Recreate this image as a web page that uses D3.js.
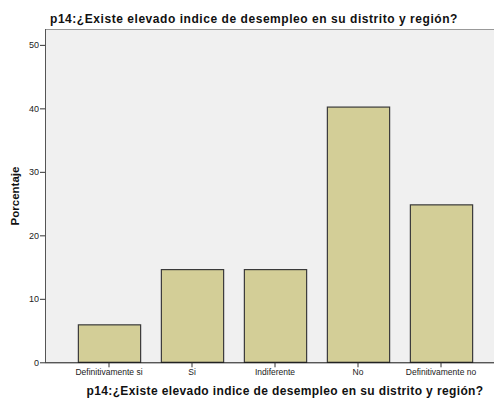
<!DOCTYPE html>
<html><head><meta charset="utf-8">
<script src="https://cdn.jsdelivr.net/npm/d3@7"></script>
<style>body{margin:0;background:#fff}svg{display:block}</style>
</head><body><svg id="c" width="494" height="401"></svg>
<script>
const categories = ["Definitivamente si","Si","Indiferente","No","Definitivamente no"];
const values = [5.9, 14.6, 14.6, 40.2, 24.8];
const yTicks = [0,10,20,30,40,50];
const titleText = "p14:¿Existe elevado indice de desempleo en su distrito y región?";
const yTitle = "Porcentaje";

const svg = d3.select("#c");
const L=45, R=494, T=29, B=362.3;
const font = "'Liberation Sans', Arial, sans-serif";

svg.append("rect").attr("x",L).attr("y",T).attr("width",R-L).attr("height",B-T).attr("fill","#f0f0f0");
svg.append("line").attr("x1",L).attr("x2",R).attr("y1",T+0.5).attr("y2",T+0.5).attr("stroke","#999");

const x = d3.scaleBand().domain(categories).range([67.5,482.5]).paddingInner(0.25).paddingOuter(0.125);
const y = d3.scaleLinear().domain([0,52.5]).range([B,T]);

svg.selectAll("rect.bar").data(values).enter().append("rect").attr("class","bar")
  .attr("x",(d,i)=>x(categories[i])+0.5).attr("width",x.bandwidth())
  .attr("y",d=>y(d)).attr("height",d=>B-y(d))
  .attr("fill","#d3ce97").attr("stroke","#3a3a3a").attr("stroke-width",1.2);

const ya = svg.append("g").attr("transform",`translate(${L},0)`).call(d3.axisLeft(y).tickValues(yTicks).tickSize(5).tickSizeOuter(0));
ya.select(".domain").attr("stroke","#555").attr("d",`M0.5,${T}V${B}`);
ya.selectAll("line").attr("stroke","#333");
ya.selectAll("text").attr("font-family",font).attr("font-size",9).attr("fill","#222").attr("x",-6);

const xa = svg.append("g").attr("transform",`translate(0,${B})`).call(d3.axisBottom(x).tickSize(5).tickSizeOuter(0));
xa.select(".domain").attr("stroke","#111").attr("d",`M${L},0.5H${R}`);
xa.selectAll("line").attr("stroke","#333");
xa.selectAll("text").attr("font-family",font).attr("font-size",8.5).attr("fill","#222").attr("y",7);

svg.append("text").attr("x",50).attr("y",23).attr("font-family",font).attr("font-weight","bold").attr("font-size",12).attr("letter-spacing",0.55).attr("fill","#111").text(titleText);
svg.append("text").attr("x",285).attr("y",395).attr("text-anchor","middle").attr("font-family",font).attr("font-weight","bold").attr("font-size",12).attr("letter-spacing",0.38).attr("fill","#111").text(titleText);
svg.append("text").attr("transform","translate(19,196) rotate(-90)").attr("text-anchor","middle").attr("font-family",font).attr("font-weight","bold").attr("font-size",11.5).attr("fill","#111").text(yTitle);
</script></body></html>
